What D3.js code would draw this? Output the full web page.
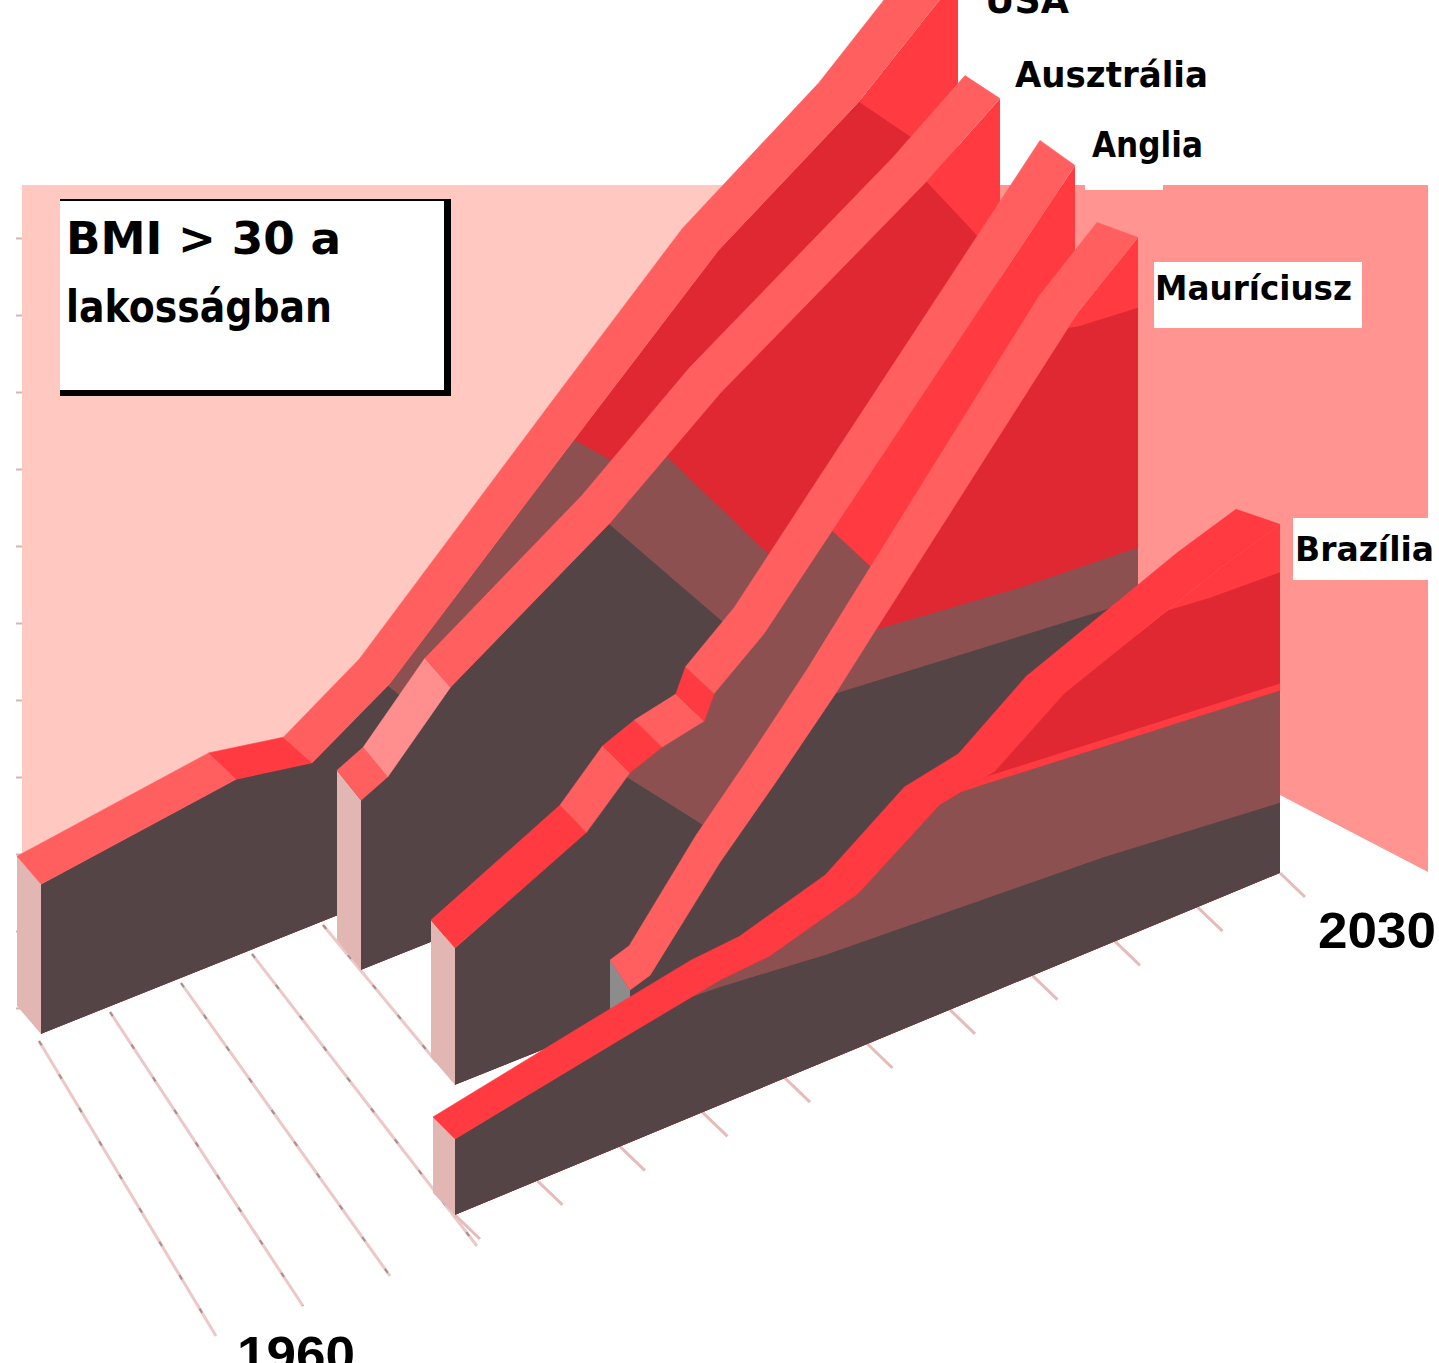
<!DOCTYPE html>
<html lang="hu">
<head>
<meta charset="utf-8">
<title>BMI > 30 a lakosságban</title>
<script src="https://cdn.jsdelivr.net/npm/d3@7/dist/d3.min.js"></script>
<style>
  html, body { margin: 0; padding: 0; background: #fff; }
  svg { display: block; }
  text { font-family: "DejaVu Sans", sans-serif; font-weight: bold; fill: #000; }
  text.year { font-family: "Liberation Sans", sans-serif; }
</style>
</head>
<body>
<svg id="chart" width="1439" height="1363"></svg>
<script>
// Share of the population with BMI above 30, in percent, per country.
const usaYears = [1960, 1974.9, 1980.7, 1986.6, 2001.5, 2011.7, 2022.3, 2030];
const usaValues = [12.8, 15.1, 13.9, 18, 33.4, 43.8, 51.6, 59];
const ausYears = [1980, 1982.1, 1987, 1999.5, 2008.1, 2024.2, 2030];
const ausValues = [14.5, 15.6, 21.1, 29.7, 37, 48, 52.6];
const engYears = [1980, 1990.6, 1994.1, 1996.7, 2000.1, 2000.9, 2004.9, 2010.6, 2023.5, 2030];
const engValues = [11.7, 17.1, 20.7, 21.8, 22.6, 24.6, 28, 34.7, 49.8, 57.4];
const mauYears = [1987, 1988.7, 1994.6, 1999.7, 2004.4, 2007.8, 2024.9, 2030];
const mauValues = [9.4, 10, 17.3, 22.7, 27.9, 32, 52.4, 56.8];
const braYears = [1960, 1973.2, 1982.5, 1986.7, 1994.2, 2001.1, 2005.8, 2011.7, 2020.6, 2024.9, 2030];
const braValues = [6.5, 9, 10.7, 11, 13.2, 17.9, 18.8, 23, 26.5, 28.2, 29.8];

// Colour-band limits on each wall, as [year, value] pairs.
const usaDarkLimit = [[1960, 40], [1975, 34.5], [1985.8, 18.8], [1987, 17.2], [1999, 1]];
const usaBrownLimit = [[1960, 70], [1990, 44], [2001.2, 32], [2002.9, 30.2], [2015, 17], [2030, 8]];
const usaCrimsonLimit = [[1960, 90], [2010, 66.6], [2022.6, 51.5], [2025.5, 48], [2030, 42.6]];
const ausDarkLimit = [[1980, 60], [1990, 42.6], [1999.5, 29.5], [2007.7, 18.2], [2015, 8.1]];
const ausBrownLimit = [[1980, 70], [1995, 46.6], [2003.8, 33.6], [2011.6, 22], [2020, 9.7]];
const ausCrimsonLimit = [[1980, 90], [2015, 63], [2024.2, 48.1], [2027.7, 42.5], [2030, 38.6]];
const engDarkLimit = [[1980, 40], [1985, 30], [1994.9, 19.3], [1999.4, 14.4], [2010, 2.6]];
const engBrownLimit = [[1980, 70], [2000, 49], [2010.4, 34.5], [2013.1, 30.7], [2030, 6.8]];
const mauDarkLimit = [[1987, 29], [2004.4, 27.9], [2028, 26], [2030, 26]];
const mauBrownLimit = [[1987, 34], [2008, 32], [2020, 30.8], [2030, 30.3]];
const mauCrimsonLimit = [[1987, 60], [2024.9, 51.2], [2030, 50.8]];
const braDarkLimit = [[1960, 12], [1975, 10.6], [1982.5, 10.1], [1991.4, 9.1], [2015.1, 7.6], [2030, 6]];
const braBrownLimit = [[1960, 21], [2001, 18.4], [2005.5, 18], [2015.6, 17], [2030, 15.6]];
const braRedLimit = [[1960, 22], [2005.5, 18.6], [2030, 16.2]];
const braCrimsonLimit = [[1960, 32], [2020.6, 26.4], [2024, 26], [2030, 25.7]];

// Years at which the colour of each ribbon's top surface changes.
const usaTopStops = [1960, 1974.9, 1980.7, 2030];
const ausTopStops = [1980, 1982.1, 1987, 2030];
const engTopStops = [1980, 1990.6, 1994.1, 1996.7, 2000.1, 2000.9, 2030];
const mauTopStops = [1987, 2030];
const braTopStops = [1960, 2030];

const countryNames = ["USA", "Ausztrália", "Anglia", "Mauríciusz", "Brazília"];
const axisYears = ["1960", "2030"];
const titleLines = ["BMI > 30 a", "lakosságban"];
const wallTicks = [0, 6.6, 13.2, 19.8, 26.4, 33, 39.6, 46.2, 52.8, 59.4, 66];
const floorFrontYears = d3.range(1960, 2031, 7);

// Palette.
const DARK = "#544445", BROWN = "#8c5050", CRIMSON = "#e02832", RED = "#ff3a40";
const ROSE = "#ff5f5f", PALE = "#ff8f8f", CAP = "#e2b6b2";

// Projection layout of the five ribbons, back to front.
const ribbons = [
  { years: usaYears, values: usaValues, stops: usaTopStops, topColors: [ROSE, RED, ROSE],
    x: [41, 958], base: [1034, 667], startOff: [-24, -28], endOff: [-40, -20], baseColor: RED, capColor: CAP,
    layers: [[CRIMSON, usaCrimsonLimit], [BROWN, usaBrownLimit], [DARK, usaDarkLimit]] },
  { years: ausYears, values: ausValues, stops: ausTopStops, topColors: [ROSE, PALE, ROSE],
    x: [361, 1000], base: [970, 714], startOff: [-24, -30], endOff: [-35, -23], baseColor: RED, capColor: CAP,
    layers: [[CRIMSON, ausCrimsonLimit], [BROWN, ausBrownLimit], [DARK, ausDarkLimit]] },
  { years: engYears, values: engValues, stops: engTopStops, topColors: [RED, ROSE, RED, ROSE, RED, ROSE],
    x: [455, 1075], base: [1085, 837], startOff: [-24, -28], endOff: [-35, -25], baseColor: RED, capColor: CAP,
    layers: [[BROWN, engBrownLimit], [DARK, engDarkLimit]] },
  { years: mauYears, values: mauValues, stops: mauTopStops, topColors: [ROSE],
    x: [630, 1138], base: [1100, 902], startOff: [-20, -30], endOff: [-41, -15], baseColor: RED, capColor: "#8c8c8c",
    layers: [[CRIMSON, mauCrimsonLimit], [BROWN, mauBrownLimit], [DARK, mauDarkLimit]] },
  { years: braYears, values: braValues, stops: braTopStops, topColors: [RED],
    x: [455, 1280], base: [1215, 873], startOff: [-22, -22], endOff: [-44, -15], baseColor: RED, capColor: CAP,
    layers: [[CRIMSON, braCrimsonLimit], [RED, braRedLimit], [BROWN, braBrownLimit], [DARK, braDarkLimit]] }
];

const svg = d3.select("#chart");
const height = d3.scaleLinear([0, 60], [0, 702]);
const polyLine = d3.line();

// Back walls of the box.
svg.append("path").attr("fill", "#ffc8c0")
  .attr("d", polyLine([[22, 185], [1000, 185], [1000, 700], [22, 855]]) + "Z");
svg.append("path").attr("fill", "#ff9490")
  .attr("d", polyLine([[1000, 185], [1428, 185], [1428, 872], [1280, 795], [1000, 795]]) + "Z");

// Value ticks on the left wall.
const tickAxis = d3.axisLeft(d3.scaleLinear([0, 66], [1008, 238]))
  .tickValues(wallTicks).tickSize(6).tickFormat("");
svg.append("g").attr("transform", "translate(22,0)").call(tickAxis)
  .call(g => g.select(".domain").remove())
  .call(g => g.selectAll("line").attr("stroke", "#d6b4b2").attr("stroke-width", 2));

// Floor lines fanning out in front of the back ribbon.
const floorStart = d3.scaleLinear([0, 1], [[39, 1041], [110, 1012]]);
const floorEnd = d3.scaleLinear([0, 1], [[216, 1336], [303, 1306]]);
const floorReach = [1, 1, 1, 1, 0.47];
const floorG = svg.append("g").attr("fill", "none");
const floorSeg = (reach, i) => polyLine([
  floorStart(i),
  d3.interpolate(floorStart(i), floorEnd(i))(reach)
]);
floorG.selectAll(".fl").data(floorReach).join("path").attr("class", "fl")
  .attr("d", floorSeg).attr("stroke", "#ecc8c6").attr("stroke-width", 3);
floorG.selectAll(".fd").data(floorReach).join("path").attr("class", "fd")
  .attr("d", floorSeg).attr("stroke", "#a09090").attr("stroke-width", 2).attr("stroke-dasharray", "5 34");

// Short floor marks along the front ribbon.
const frontX = d3.scaleLinear([1960, 2030], [455, 1280]);
const frontY = d3.scaleLinear([1960, 2030], [1215, 873]);
floorG.selectAll(".ft").data(floorFrontYears).join("path").attr("class", "ft")
  .attr("d", y => polyLine([[frontX(y), frontY(y)], [frontX(y) + 25, frontY(y) + 24]]))
  .attr("stroke", "#e6bcba").attr("stroke-width", 3);

ribbons.forEach((r, idx) => {
  const start = r.years[0], end = r.years[r.years.length - 1];
  const xs = d3.scaleLinear([start, end], r.x);
  const base = d3.scaleLinear([start, end], r.base);
  const top = d3.scaleLinear(r.years, r.values);
  const offX = d3.scaleLinear([start, end], [r.startOff[0], r.endOff[0]]);
  const offY = d3.scaleLinear([start, end], [r.startOff[1], r.endOff[1]]);
  const yAt = (yr, v) => base(yr) - height(v);
  const g = svg.append("g").attr("class", "ribbon");
  const clipId = "wall-" + idx;

  // End cap at the first year.
  const capFront = xs(start);
  g.append("path").attr("fill", r.capColor).attr("d", polyLine([
    [capFront, yAt(start, r.values[0])],
    [capFront + r.startOff[0], yAt(start, r.values[0]) + r.startOff[1]],
    [capFront + r.startOff[0], base(start) + r.startOff[1]],
    [capFront, base(start)]
  ]) + "Z");

  // Wall: the outline clips the colour bands painted from the top band downward.
  const wallArea = d3.area().x(d => xs(d[0])).y0(d => base(d[0])).y1(d => yAt(d[0], d[1]));
  const wallPts = d3.zip(r.years, r.values);
  g.append("clipPath").attr("id", clipId).append("path").attr("d", wallArea(wallPts));
  const wall = g.append("g").attr("clip-path", `url(#${clipId})`);
  wall.append("path").attr("fill", r.baseColor).attr("d", wallArea(wallPts));
  r.layers.forEach(([color, limit]) => {
    wall.append("path").attr("fill", color).attr("d", wallArea(limit));
  });

  // Top surface, one segment per colour.
  r.topColors.forEach((color, i) => {
    const a = r.stops[i], b = r.stops[i + 1];
    const yrs = [a, ...r.years.filter(y => y > a && y < b), b];
    const front = yrs.map(y => [xs(y), yAt(y, top(y))]);
    const back = yrs.map(y => [xs(y) + offX(y), yAt(y, top(y)) + offY(y)]).reverse();
    g.append("path").attr("fill", color).attr("stroke", color).attr("stroke-width", 0.6)
      .attr("d", polyLine(front.concat(back)) + "Z");
  });
});

// White plates behind the country labels.
const plates = [[1085, 120, 78, 70], [1154, 262, 208, 66], [1293, 518, 146, 62]];
svg.selectAll(".plate").data(plates).join("rect").attr("class", "plate")
  .attr("x", d => d[0]).attr("y", d => d[1]).attr("width", d => d[2]).attr("height", d => d[3])
  .attr("fill", "#fff");
svg.append("rect").attr("x", 1428).attr("y", 185).attr("width", 11).attr("height", 700).attr("fill", "#fff");

// Country and year labels.
const labelSlots = [
  [985, 13, 84, 38], [1015, 87, 193, 36], [1092, 157, 111, 36], [1155, 300, 197, 34], [1295, 561, 139, 33]
];
svg.selectAll(".country").data(countryNames).join("text").attr("class", "country")
  .attr("x", (d, i) => labelSlots[i][0]).attr("y", (d, i) => labelSlots[i][1])
  .attr("font-size", (d, i) => labelSlots[i][3])
  .attr("textLength", (d, i) => labelSlots[i][2]).attr("lengthAdjust", "spacingAndGlyphs")
  .text(d => d);
const yearSlots = [[237, 1372, 118], [1318, 948, 118]];
svg.selectAll(".year").data(axisYears).join("text").attr("class", "year")
  .attr("x", (d, i) => yearSlots[i][0]).attr("y", (d, i) => yearSlots[i][1])
  .attr("font-size", 50).attr("textLength", (d, i) => yearSlots[i][2]).attr("lengthAdjust", "spacingAndGlyphs")
  .text(d => d);

// Title box with its heavier right and bottom edges.
svg.append("rect").attr("x", 60).attr("y", 199).attr("width", 391).attr("height", 197).attr("fill", "#000");
svg.append("rect").attr("x", 60).attr("y", 201).attr("width", 384).attr("height", 189).attr("fill", "#fff");
const titleSlots = [[66, 254, 275], [66, 322, 266]];
svg.selectAll(".title").data(titleLines).join("text").attr("class", "title")
  .attr("x", (d, i) => titleSlots[i][0]).attr("y", (d, i) => titleSlots[i][1])
  .attr("font-size", 45).attr("textLength", (d, i) => titleSlots[i][2]).attr("lengthAdjust", "spacingAndGlyphs")
  .text(d => d);
</script>
</body>
</html>
